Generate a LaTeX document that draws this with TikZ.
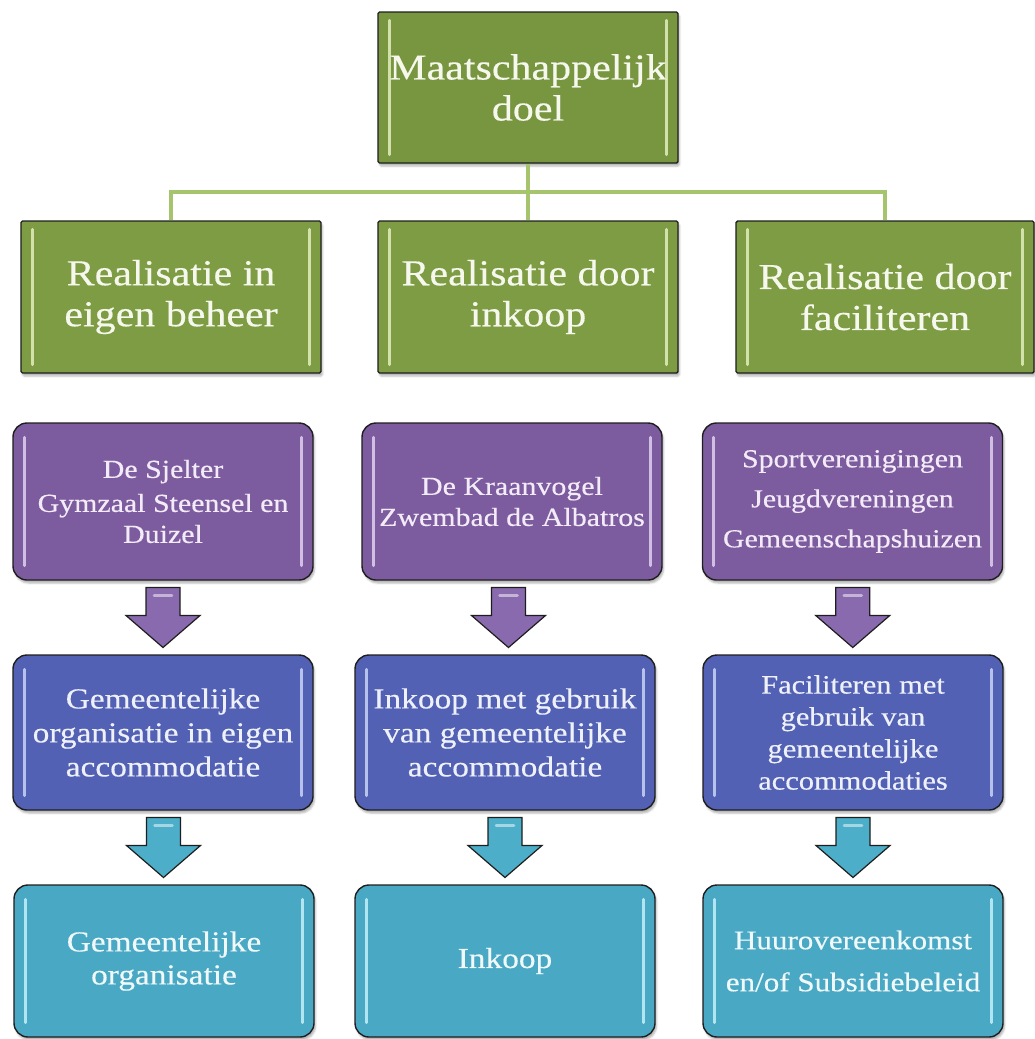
\documentclass[tikz,border=0pt]{standalone}
\usepackage{fontspec}
\setmainfont{Liberation Serif}[FakeStretch=1.15,FakeBold=0.35]
\usetikzlibrary{calc,shadows.blur}
\definecolor{grnF}{HTML}{7E9C44}
\definecolor{grnTop}{HTML}{789540}
\definecolor{grnLine}{HTML}{A6C46E}
\definecolor{grnHL}{HTML}{E2EEBE}
\definecolor{grnTx}{HTML}{F6F8EE}
\definecolor{purF}{HTML}{7C5C9F}
\definecolor{purHL}{HTML}{E0D0F0}
\definecolor{purTx}{HTML}{F3ECF8}
\definecolor{bluF}{HTML}{5261B3}
\definecolor{bluHL}{HTML}{C8D2F6}
\definecolor{bluTx}{HTML}{EEF0FA}
\definecolor{cyaF}{HTML}{49A9C4}
\definecolor{cyaHL}{HTML}{C4F0FA}
\definecolor{cyaTx}{HTML}{F0F8FA}
\definecolor{purA}{HTML}{8A6AAE}
\definecolor{cyaA}{HTML}{4CAEC8}
\definecolor{edge}{HTML}{1E1E1E}
\newcommand{\bevel}[3]{\draw[#2, line width=3pt, line cap=round, opacity=0.85]
  ([xshift=12pt,yshift=-#3]#1.north west) -- ([xshift=12pt,yshift=#3]#1.south west)
  ([xshift=-12pt,yshift=-#3]#1.north east) -- ([xshift=-12pt,yshift=#3]#1.south east);}
\newcommand{\blockarrow}[3]{%
  \draw[arr, fill=#3] ($(#1.south)!0.5!(#2.north)$) ++(-17,-30) -- ++(34,0) -- ++(0,28)
    -- ++(20,0) -- ++(-37,32) -- ++(-37,-32) -- ++(20,0) -- cycle;
  \draw[white, opacity=0.5, line width=2.5pt, line cap=round]
    ($(#1.south)!0.5!(#2.north)$) ++(-9,-22) -- ++(18,0);}
\begin{document}
\begin{tikzpicture}[x=1pt,y=-1pt,
  box/.style={draw=edge, line width=1.4pt, inner sep=0pt, align=center,
    minimum width=300pt,
    blur shadow={shadow xshift=1.5pt, shadow yshift=-3pt, shadow opacity=30}},
  gbox/.style={box, fill=grnF, text=grnTx, rounded corners=1.5pt,
    minimum height=152pt, font=\fontsize{36.5}{41}\selectfont},
  pbox/.style={box, fill=purF, text=purTx, rounded corners=14pt,
    minimum height=157pt, font=\fontsize{26}{31}\selectfont},
  bbox/.style={box, fill=bluF, text=bluTx, rounded corners=14pt,
    minimum height=155pt, font=\fontsize{29}{34}\selectfont},
  cbox/.style={box, fill=cyaF, text=cyaTx, rounded corners=14pt,
    minimum height=152pt, font=\fontsize{29}{33}\selectfont},
  tree/.style={draw=grnLine, line width=4pt},
  arr/.style={draw=edge, line width=1.2pt, line join=miter}
]
\useasboundingbox (0,0) rectangle (1035,1039);
% top and green row
\node[gbox, fill=grnTop, minimum height=151pt] (top) at (528,87.5) {Maatschappelijk\\doel};
\node[gbox] (g1) at (171,297) {Realisatie in\\eigen beheer};
\node[gbox] (g2) at (528,297) {Realisatie door\\inkoop};
\node[gbox, minimum width=298pt] (g3) at (885,297) {Realisatie door\\faciliteren};
% purple row
\node[pbox] (p1) at (163,501.5) {De Sjelter\\[3pt]Gymzaal Steensel en\\Duizel};
\node[pbox] (p2) at (512,501.5) {De Kraanvogel\\Zwembad de Albatros};
\node[pbox] (p3) at (852.5,501.5) {Sportverenigingen\\[9pt]Jeugdvereningen\\[9pt]Gemeenschapshuizen};
% blue row
\node[bbox] (b1) at (163,732.5) {Gemeentelijke\\organisatie in eigen\\accommodatie};
\node[bbox] (b2) at (505,732.5) {Inkoop met gebruik\\van gemeentelijke\\accommodatie};
\node[bbox, font=\fontsize{26.5}{32}\selectfont] (b3) at (853,732.5) {Faciliteren met\\gebruik van\\gemeentelijke\\accommodaties};
% cyan row
\node[cbox] (c1) at (164,961) {Gemeentelijke\\organisatie};
\node[cbox] (c2) at (505,961) {Inkoop};
\node[cbox, font=\fontsize{27}{32}\selectfont] (c3) at (853,961) {Huurovereenkomst\\[10pt]en/of Subsidiebeleid};
% bevel highlights
\bevel{top}{grnHL}{9pt}
\foreach \n in {g1,g2,g3}{\bevel{\n}{grnHL}{9pt}}
\foreach \n in {p1,p2,p3}{\bevel{\n}{purHL}{15pt}}
\foreach \n in {b1,b2,b3}{\bevel{\n}{bluHL}{15pt}}
\foreach \n in {c1,c2,c3}{\bevel{\n}{cyaHL}{15pt}}
% tree connectors
\draw[tree] (top.south) -- (g2.north);
\draw[tree] (g1.north) |- ($(top.south)!0.5!(g2.north)$) -| (g3.north);
% block arrows
\blockarrow{p1}{b1}{purA}
\blockarrow{p2}{b2}{purA}
\blockarrow{p3}{b3}{purA}
\blockarrow{b1}{c1}{cyaA}
\blockarrow{b2}{c2}{cyaA}
\blockarrow{b3}{c3}{cyaA}
\end{tikzpicture}
\end{document}
